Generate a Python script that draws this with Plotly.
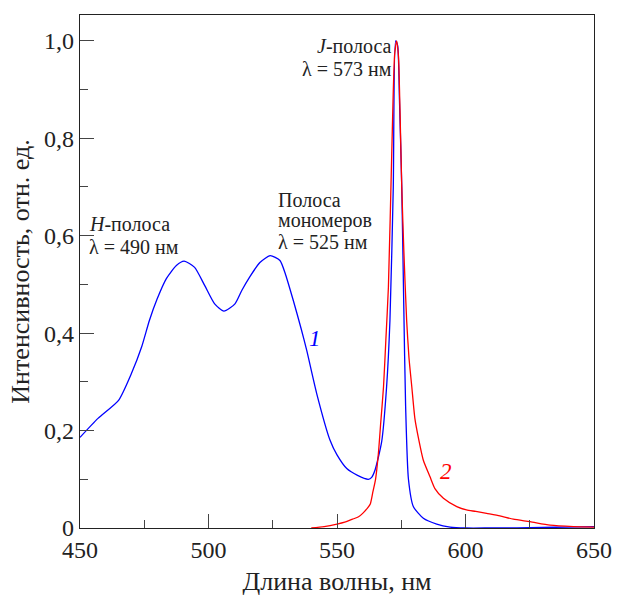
import plotly.graph_objects as go

# Curve 1 (blue)
wl_1 = [450, 457, 465, 470, 474, 477, 480, 483.6, 487.5, 490.5, 494.6, 498.5, 502.4, 506,
        510.3, 513, 516, 520, 524, 527.8, 530, 533, 536, 538.2, 542.1, 547.3, 550, 553.8,
        558, 562.2, 563.5, 564.8, 567.4, 569.3, 570.6, 571.9, 572.8, 573.6, 574.3, 575.2,
        576, 576.7, 577.8, 579.7, 583.6, 588.8, 594, 600, 610, 620, 630, 640, 650]
int_1 = [0.186, 0.225, 0.262, 0.317, 0.372, 0.426, 0.47, 0.512, 0.539, 0.548, 0.535, 0.498,
         0.46, 0.445, 0.46, 0.488, 0.515, 0.545, 0.559, 0.549, 0.52, 0.467, 0.41, 0.365,
         0.276, 0.18, 0.15, 0.122, 0.108, 0.10, 0.104, 0.119, 0.178, 0.29, 0.426, 0.70,
         1.0, 0.99, 0.88, 0.70, 0.45, 0.25, 0.10, 0.044, 0.02, 0.008, 0.002, 0.0, 0.0,
         0.0, 0.001, 0.002, 0.003]

# Curve 2 (red)
wl_2 = [540, 545, 550, 553, 556, 558.4, 560, 562, 563, 564, 565, 566.1, 567, 568.1, 569,
        570, 571.3, 572.4, 573.2, 573.9, 574.5, 575.2, 576, 577.1, 578, 579.1, 580.3, 581.6,
        583.6, 586.2, 588.1, 591.4, 596.6, 600.4, 604, 608.2, 613.4, 618.6, 625.1, 632.9,
        642, 650]
int_2 = [0.0, 0.003, 0.008, 0.012, 0.018, 0.023, 0.03, 0.042, 0.05, 0.075, 0.10, 0.153,
         0.215, 0.29, 0.385, 0.494, 0.768, 0.97, 1.0, 0.97, 0.86, 0.70, 0.57, 0.426, 0.35,
         0.29, 0.225, 0.187, 0.139, 0.105, 0.081, 0.061, 0.044, 0.037, 0.034, 0.030, 0.025,
         0.018, 0.013, 0.006, 0.003, 0.002]

x_ticks = [450, 500, 550, 600, 650]
x_ticktext = ["450", "500", "550", "600", "650"]
y_ticks = [0, 0.2, 0.4, 0.6, 0.8, 1.0]
y_ticktext = ["0", "0,2", "0,4", "0,6", "0,8", "1,0"]

FONT = "Liberation Serif"

fig = go.Figure()
fig.add_trace(go.Scatter(x=wl_1, y=int_1, mode="lines",
                         line=dict(color="#0000ff", width=1.3, shape="spline", smoothing=0.6),
                         showlegend=False))
fig.add_trace(go.Scatter(x=wl_2, y=int_2, mode="lines",
                         line=dict(color="#ff0000", width=1.3, shape="spline", smoothing=0.6),
                         showlegend=False))

ann_font = dict(family=FONT, size=20, color="#222222")
anns = [
    dict(x=572.0, y=0.990, text="<i>J</i>-полоса", xanchor="right"),
    dict(x=572.0, y=0.943, text="λ = 573 нм", xanchor="right"),
    dict(x=452.8, y=0.623, text="<i>H</i>-полоса", xanchor="left"),
    dict(x=452.8, y=0.576, text="λ = 490 нм", xanchor="left"),
    dict(x=526.3, y=0.674, text="Полоса", xanchor="left"),
    dict(x=526.3, y=0.631, text="мономеров", xanchor="left"),
    dict(x=526.3, y=0.588, text="λ = 525 нм", xanchor="left"),
]
for a in anns:
    fig.add_annotation(x=a["x"], y=a["y"], text=a["text"], xanchor=a["xanchor"],
                       yanchor="middle", showarrow=False, font=ann_font,
                       xref="x", yref="y")
fig.add_annotation(x=541.6, y=0.389, text="<i>1</i>", showarrow=False,
                   font=dict(family=FONT, size=23, color="#0000ff"), xref="x", yref="y")
fig.add_annotation(x=592.5, y=0.115, text="<i>2</i>", showarrow=False,
                   font=dict(family=FONT, size=23, color="#ff0000"), xref="x", yref="y")

fig.update_layout(
    width=617, height=599,
    margin=dict(l=80, r=23, t=15, b=71),
    paper_bgcolor="white", plot_bgcolor="white",
    font=dict(family=FONT, color="#222222"),
    xaxis=dict(range=[450, 650], tickvals=x_ticks, ticktext=x_ticktext,
               automargin=False,
               showgrid=False, zeroline=False, showline=True, mirror=True,
               linecolor="#222222", linewidth=1.2,
               ticks="inside", ticklen=14, tickcolor="#444444", tickwidth=1.2,
               minor=dict(dtick=25, tick0=450, ticks="inside", ticklen=8,
                          tickcolor="#444444", tickwidth=1.2, showgrid=False),
               tickfont=dict(family=FONT, size=24, color="#222222"),
               title=dict(text="Длина волны, нм", standoff=9,
                          font=dict(family=FONT, size=26, color="#222222"))),
    yaxis=dict(range=[0, 1.053], tickvals=y_ticks, ticktext=y_ticktext,
               automargin=False,
               showgrid=False, zeroline=False, showline=True, mirror=True,
               linecolor="#222222", linewidth=1.2,
               ticks="inside", ticklen=14, tickcolor="#444444", tickwidth=1.2,
               minor=dict(dtick=0.1, tick0=0, ticks="inside", ticklen=8,
                          tickcolor="#444444", tickwidth=1.2, showgrid=False),
               tickfont=dict(family=FONT, size=24, color="#222222"),
               title=dict(text="Интенсивность, отн. ед.", standoff=6,
                          font=dict(family=FONT, size=26, color="#222222"))),
)

fig.write_html("out.html")
